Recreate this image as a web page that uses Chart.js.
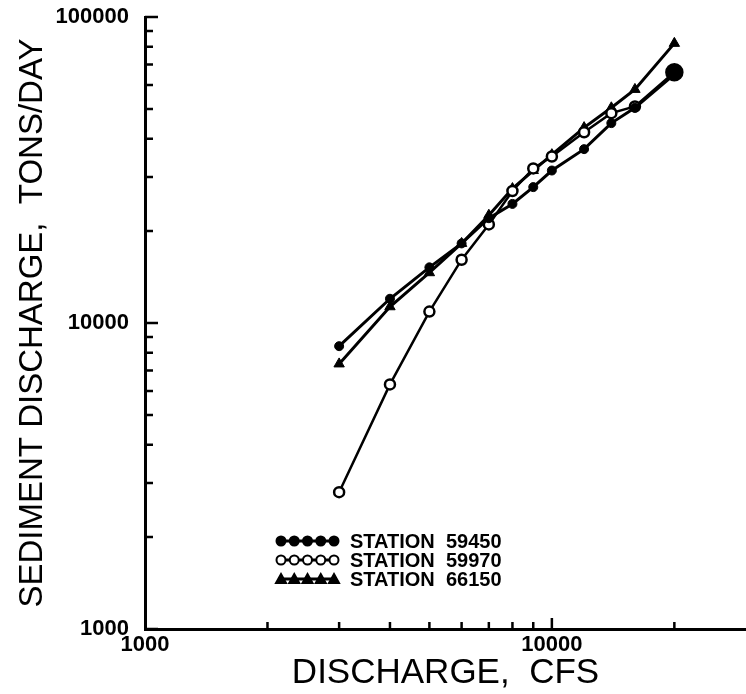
<!DOCTYPE html>
<html>
<head>
<meta charset="utf-8">
<script src="https://cdn.jsdelivr.net/npm/chart.js@4/dist/chart.umd.min.js"></script>
<style>
  html, body { margin: 0; padding: 0; background: #fff; }
  #wrap { width: 746px; height: 694px; }
</style>
</head>
<body>
<div id="wrap"><canvas id="chart" width="746" height="694"></canvas></div>
<script>
// -------------------------------
// DATA
// -------------------------------
const discharge = [3000, 4000, 5000, 6000, 7000, 8000, 9000, 10000, 12000, 14000, 16000, 20000];
const station59450 = [8400, 12000, 15200, 18200, 22000, 24500, 27800, 31500, 37000, 45000, 50500, 65000];
const station59970 = [2800, 6300, 10900, 16100, 21000, 27000, 32000, 35000, 42000, 48500, 51000, 66000];
const station66150 = [7350, 11300, 14600, 18200, 22500, 27500, 31500, 35500, 43500, 50500, 58000, 82000];

const stationNames = ["STATION  59450", "STATION  59970", "STATION  66150"];

const xLabelTicks = [1000, 10000];
const yLabelTicks = [1000, 10000, 100000];
const xMinorTicks = [2000, 3000, 4000, 5000, 6000, 7000, 8000, 9000, 20000];
const yMinorTicks = [2000, 3000, 4000, 5000, 6000, 7000, 8000, 9000,
                     20000, 30000, 40000, 50000, 60000, 70000, 80000, 90000];

const FONT = "'Liberation Sans', Arial, sans-serif";

function toPoints(values) {
  return discharge.map((x, i) => ({ x, y: values[i] }));
}

// inward tick marks on both axes
const inwardTicks = {
  id: "inwardTicks",
  afterDraw(chart) {
    const { ctx, chartArea } = chart;
    const xs = chart.scales.x, ys = chart.scales.y;
    ctx.save();
    ctx.strokeStyle = "#000";
    ctx.lineWidth = 2.5;
    ctx.beginPath();
    yMinorTicks.forEach(v => {
      const py = ys.getPixelForValue(v);
      ctx.moveTo(chartArea.left, py);
      ctx.lineTo(chartArea.left + 8, py);
    });
    yLabelTicks.forEach(v => {
      const py = ys.getPixelForValue(v);
      ctx.moveTo(chartArea.left, py);
      ctx.lineTo(chartArea.left + 13, py);
    });
    xMinorTicks.forEach(v => {
      const px = xs.getPixelForValue(v);
      ctx.moveTo(px, chartArea.bottom);
      ctx.lineTo(px, chartArea.bottom - 7);
    });
    [10000].forEach(v => {
      const px = xs.getPixelForValue(v);
      ctx.moveTo(px, chartArea.bottom);
      ctx.lineTo(px, chartArea.bottom - 11);
    });
    ctx.stroke();
    ctx.restore();
  }
};

// legend drawn inside the plot, like the original figure
const stationLegend = {
  id: "stationLegend",
  afterDraw(chart) {
    const { ctx } = chart;
    const x0 = 278, x1 = 337, top = 541, gap = 19;
    ctx.save();
    chart.data.datasets.forEach((ds, i) => {
      const y = top + i * gap;
      ctx.strokeStyle = "#000";
      ctx.lineWidth = 3;
      ctx.beginPath();
      ctx.moveTo(x0, y);
      ctx.lineTo(x1, y);
      ctx.stroke();
      for (let k = 0; k < 5; k++) {
        const mx = x0 + 3 + k * ((x1 - x0 - 6) / 4);
        ctx.fillStyle = i === 1 ? "#fff" : "#000";
        ctx.strokeStyle = "#000";
        ctx.lineWidth = 2;
        ctx.beginPath();
        if (ds.pointStyle === "triangle") {
          ctx.moveTo(mx, y - 5);
          ctx.lineTo(mx + 5, y + 4);
          ctx.lineTo(mx - 5, y + 4);
          ctx.closePath();
        } else {
          ctx.arc(mx, y, 4.5, 0, Math.PI * 2);
        }
        ctx.fill();
        ctx.stroke();
      }
      ctx.fillStyle = "#000";
      ctx.font = "bold 20px " + FONT;
      ctx.textBaseline = "middle";
      ctx.fillText(stationNames[i], 350, y + 1);
    });
    ctx.restore();
  }
};

new Chart(document.getElementById("chart").getContext("2d"), {
  type: "scatter",
  data: {
    datasets: [
      {
        label: stationNames[0],
        data: toPoints(station59450),
        showLine: true,
        borderColor: "#000",
        borderWidth: 3,
        pointStyle: "circle",
        pointRadius: 4.5,
        pointBackgroundColor: "#000",
        pointBorderColor: "#000",
        pointBorderWidth: 1
      },
      {
        label: stationNames[1],
        data: toPoints(station59970),
        showLine: true,
        borderColor: "#000",
        borderWidth: 2.5,
        pointStyle: "circle",
        pointRadius: ctx => ctx.dataIndex === discharge.length - 1 ? 8 : 5,
        pointBackgroundColor: ctx => ctx.dataIndex === discharge.length - 1 ? "#000" : "#fff",
        pointBorderColor: "#000",
        pointBorderWidth: 2.5
      },
      {
        label: stationNames[2],
        data: toPoints(station66150),
        showLine: true,
        borderColor: "#000",
        borderWidth: 3,
        pointStyle: "triangle",
        pointRadius: 6,
        pointBackgroundColor: "#000",
        pointBorderColor: "#000",
        pointBorderWidth: 1
      }
    ]
  },
  options: {
    responsive: false,
    animation: false,
    clip: false,
    layout: { autoPadding: false, padding: { top: 17, right: 0, left: 0, bottom: 0 } },
    plugins: {
      legend: { display: false },
      tooltip: { enabled: false }
    },
    scales: {
      x: {
        type: "logarithmic",
        min: 1000,
        max: 30000,
        afterBuildTicks: s => { s.ticks = xLabelTicks.map(v => ({ value: v })); },
        afterFit: s => {
          s.height = 65;
          s.paddingLeft = 0;
          s.paddingRight = 0;
        },
        grid: { display: false, drawTicks: false },
        border: { display: true, color: "#000", width: 3 },
        ticks: {
          color: "#000",
          padding: 3,
          maxRotation: 0,
          autoSkip: false,
          font: { family: FONT, size: 22, weight: "bold" },
          callback: v => String(v)
        },
        title: {
          display: true,
          text: "DISCHARGE,  CFS",
          color: "#000",
          padding: { top: 0, bottom: 0 },
          font: { family: FONT, size: 35 }
        }
      },
      y: {
        type: "logarithmic",
        min: 1000,
        max: 100000,
        afterBuildTicks: s => { s.ticks = yLabelTicks.map(v => ({ value: v })); },
        afterFit: s => {
          s.width = 145;
          s.paddingTop = 0;
          s.paddingBottom = 0;
        },
        grid: { display: false, drawTicks: false },
        border: { display: true, color: "#000", width: 3 },
        ticks: {
          color: "#000",
          padding: 16,
          autoSkip: false,
          font: { family: FONT, size: 22, weight: "bold" },
          callback: v => String(v)
        },
        title: {
          display: true,
          text: "SEDIMENT DISCHARGE,  TONS/DAY",
          color: "#000",
          padding: { top: 13, bottom: 0 },
          font: { family: FONT, size: 33 }
        }
      }
    }
  },
  plugins: [inwardTicks, stationLegend]
});
</script>
</body>
</html>
